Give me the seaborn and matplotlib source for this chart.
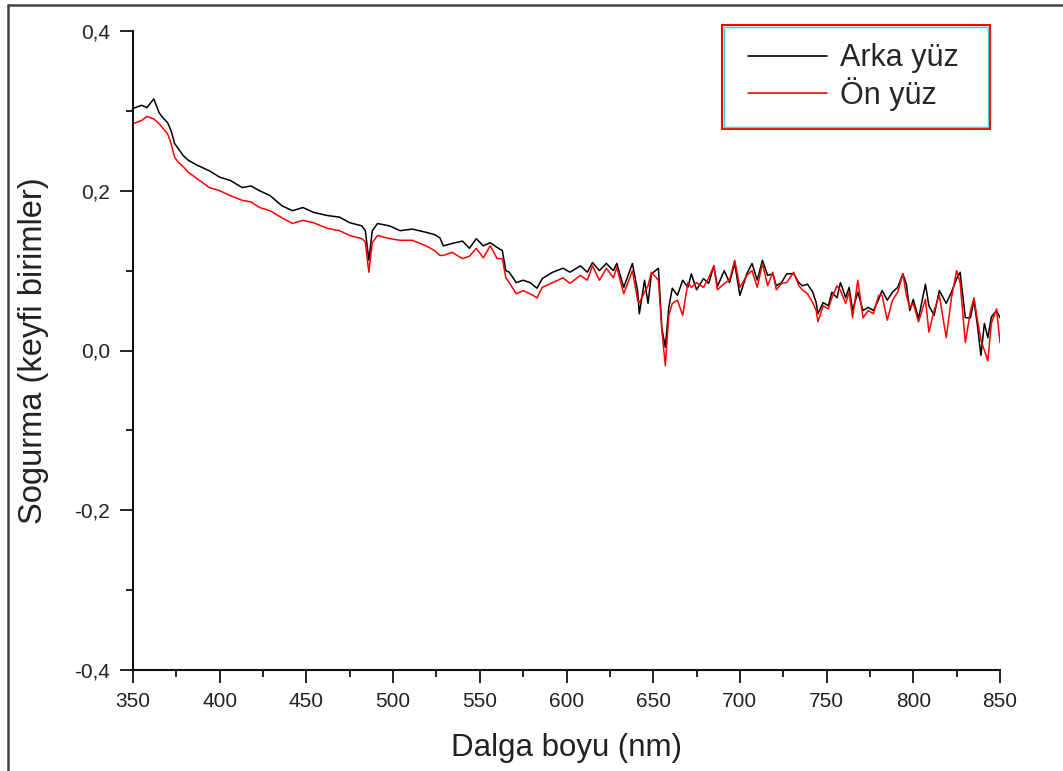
import numpy as np
import pandas as pd
import seaborn as sns
import matplotlib.pyplot as plt
from matplotlib.lines import Line2D
from matplotlib.patches import Rectangle
from matplotlib.ticker import MultipleLocator

# wavelength (nm) and absorbance
wavelength = [
    350, 355, 358, 362, 365, 367, 370, 372, 374, 376, 379, 382, 387, 394, 400,
    406, 413, 418, 423, 429, 436, 442, 448, 454, 462, 469, 475, 482, 484, 486,
    488, 491, 498, 504, 511, 519, 524, 527, 529, 534, 540, 544, 548, 552, 556,
    560, 563, 565, 567, 571, 575, 579, 583, 586, 592, 598, 602, 608, 612, 615,
    619, 623, 627, 629, 633, 638, 641, 642, 645, 647, 649, 653, 655, 657, 659,
    661, 664, 667, 670, 672, 675, 679, 682, 685, 687, 691, 694, 697, 700, 704,
    707, 710, 713, 716, 719, 721, 724, 727, 731, 734, 736, 739, 742, 744, 745,
    748, 751, 753, 756, 758, 761, 763, 765, 768, 771, 774, 777, 780, 782, 785,
    788, 791, 794, 796, 798, 800, 803, 807, 809, 812, 815, 819, 822, 825, 827,
    830, 833, 835, 837, 839, 841, 843, 845, 848, 850,
]
arka_yuz = [
    0.303, 0.307, 0.304, 0.315, 0.298, 0.292, 0.285, 0.275, 0.259, 0.253, 0.244, 0.238, 0.232, 0.225, 0.217,
    0.213, 0.204, 0.206, 0.200, 0.194, 0.181, 0.175, 0.179, 0.173, 0.169, 0.167, 0.160, 0.156, 0.150, 0.113,
    0.150, 0.159, 0.156, 0.150, 0.152, 0.148, 0.145, 0.141, 0.131, 0.134, 0.137, 0.128, 0.140, 0.131, 0.135,
    0.129, 0.125, 0.100, 0.098, 0.085, 0.088, 0.085, 0.078, 0.090, 0.098, 0.103, 0.098, 0.106, 0.098, 0.110,
    0.100, 0.109, 0.100, 0.109, 0.079, 0.109, 0.075, 0.046, 0.088, 0.059, 0.096, 0.103, 0.028, 0.004, 0.054,
    0.078, 0.069, 0.088, 0.079, 0.096, 0.076, 0.090, 0.084, 0.106, 0.080, 0.100, 0.085, 0.109, 0.069, 0.096,
    0.109, 0.088, 0.113, 0.094, 0.096, 0.081, 0.085, 0.096, 0.096, 0.085, 0.081, 0.083, 0.073, 0.060, 0.046,
    0.060, 0.056, 0.073, 0.066, 0.085, 0.066, 0.079, 0.050, 0.073, 0.050, 0.054, 0.050, 0.064, 0.075, 0.063,
    0.073, 0.079, 0.096, 0.083, 0.050, 0.064, 0.040, 0.083, 0.056, 0.044, 0.075, 0.059, 0.073, 0.090, 0.098,
    0.041, 0.041, 0.063, 0.031, -0.006, 0.034, 0.016, 0.042, 0.050, 0.041,
]
on_yuz = [
    0.284, 0.288, 0.293, 0.290, 0.284, 0.279, 0.271, 0.259, 0.242, 0.236, 0.230, 0.223, 0.215, 0.204, 0.200,
    0.194, 0.188, 0.186, 0.179, 0.175, 0.166, 0.159, 0.163, 0.160, 0.153, 0.150, 0.144, 0.140, 0.136, 0.098,
    0.135, 0.144, 0.140, 0.138, 0.138, 0.131, 0.125, 0.119, 0.119, 0.123, 0.115, 0.118, 0.128, 0.116, 0.131,
    0.115, 0.115, 0.091, 0.085, 0.071, 0.075, 0.071, 0.066, 0.079, 0.085, 0.091, 0.084, 0.094, 0.088, 0.106,
    0.088, 0.103, 0.091, 0.104, 0.071, 0.100, 0.063, 0.060, 0.073, 0.081, 0.098, 0.088, 0.025, -0.019, 0.044,
    0.059, 0.063, 0.044, 0.085, 0.079, 0.085, 0.079, 0.091, 0.106, 0.076, 0.084, 0.088, 0.113, 0.079, 0.094,
    0.100, 0.079, 0.109, 0.081, 0.098, 0.076, 0.084, 0.085, 0.098, 0.081, 0.076, 0.071, 0.060, 0.050, 0.036,
    0.056, 0.052, 0.066, 0.081, 0.075, 0.059, 0.073, 0.041, 0.088, 0.041, 0.050, 0.046, 0.069, 0.069, 0.038,
    0.063, 0.073, 0.096, 0.069, 0.054, 0.059, 0.036, 0.064, 0.023, 0.050, 0.069, 0.016, 0.066, 0.100, 0.085,
    0.010, 0.050, 0.066, 0.038, 0.013, 0.000, -0.013, 0.034, 0.052, 0.010,
]
series_names = ["Arka yüz", "Ön yüz"]
series_colors = ["black", "red"]

x_ticks = [350, 400, 450, 500, 550, 600, 650, 700, 750, 800, 850]
y_ticks = [-0.4, -0.2, 0.0, 0.2, 0.4]
y_tick_labels = ["-0,4", "-0,2", "0,0", "0,2", "0,4"]

df = pd.concat([
    pd.DataFrame({"nm": wavelength, "abs": arka_yuz, "yuz": series_names[0]}),
    pd.DataFrame({"nm": wavelength, "abs": on_yuz, "yuz": series_names[1]}),
])

sns.set_style("ticks")
plt.rcParams["font.family"] = ["Liberation Sans", "DejaVu Sans"]

W, H = 1063, 771
fig = plt.figure(figsize=(W / 100, H / 100), dpi=100)
ax = fig.add_axes([133 / W, 1 - 670 / H, 867 / W, 639 / H])

sns.lineplot(data=df, x="nm", y="abs", hue="yuz", hue_order=series_names,
             palette=dict(zip(series_names, series_colors)), linewidth=1.1,
             errorbar=None, ax=ax, legend=False)

ax.set_xlim(350, 850)
ax.set_ylim(-0.4, 0.4)
ax.set_xticks(x_ticks)
ax.set_yticks(y_ticks, y_tick_labels)
ax.xaxis.set_minor_locator(MultipleLocator(25))
ax.yaxis.set_minor_locator(MultipleLocator(0.1))

sns.despine(ax=ax)
for s in ["left", "bottom"]:
    ax.spines[s].set_linewidth(1.5)
    ax.spines[s].set_color("#111111")
ax.tick_params(which="major", direction="out", length=9.5, width=1.3,
               labelsize=15, colors="#111111", labelcolor="#222222")
ax.tick_params(which="minor", direction="out", length=5, width=1.3, colors="#111111")
ax.tick_params(axis="y", pad=7)
ax.tick_params(axis="x", pad=6)

ax.set_xlabel("Dalga boyu (nm)", fontsize=22.5, color="#222222")
ax.set_ylabel("Sogurma (keyfi birimler)", fontsize=23.5, color="#222222")
ax.xaxis.set_label_coords(0.5, -0.098)
ax.yaxis.set_label_coords(-0.097, 0.5)

# legend, framed by a red/cyan double border like the original
handles = [Line2D([], [], color=c, linewidth=1.2) for c in series_colors]
fig.legend(handles, series_names, loc="center left",
           bbox_to_anchor=(748 / W, 1 - 77 / H), frameon=False, fontsize=22,
           handlelength=2.6, handletextpad=0.4, labelspacing=0.12, borderpad=0,
           borderaxespad=0)
fig.add_artist(Rectangle((722 / W, 1 - 129 / H), 268 / W, 104 / H,
                         transform=fig.transFigure, fill=False,
                         edgecolor="red", linewidth=1.5))
fig.add_artist(Rectangle((724 / W, 1 - 127 / H), 264 / W, 100 / H,
                         transform=fig.transFigure, fill=False,
                         edgecolor="#33dddd", linewidth=1.0))

# outer border (only left and top edges are in view)
fig.add_artist(Line2D([8 / W, 8 / W], [0, 1 - 5 / H], transform=fig.transFigure,
                      color="#444444", linewidth=1.8))
fig.add_artist(Line2D([8 / W, 1], [1 - 5 / H, 1 - 5 / H], transform=fig.transFigure,
                      color="#444444", linewidth=1.8))

fig.savefig("out.png", dpi=100)
